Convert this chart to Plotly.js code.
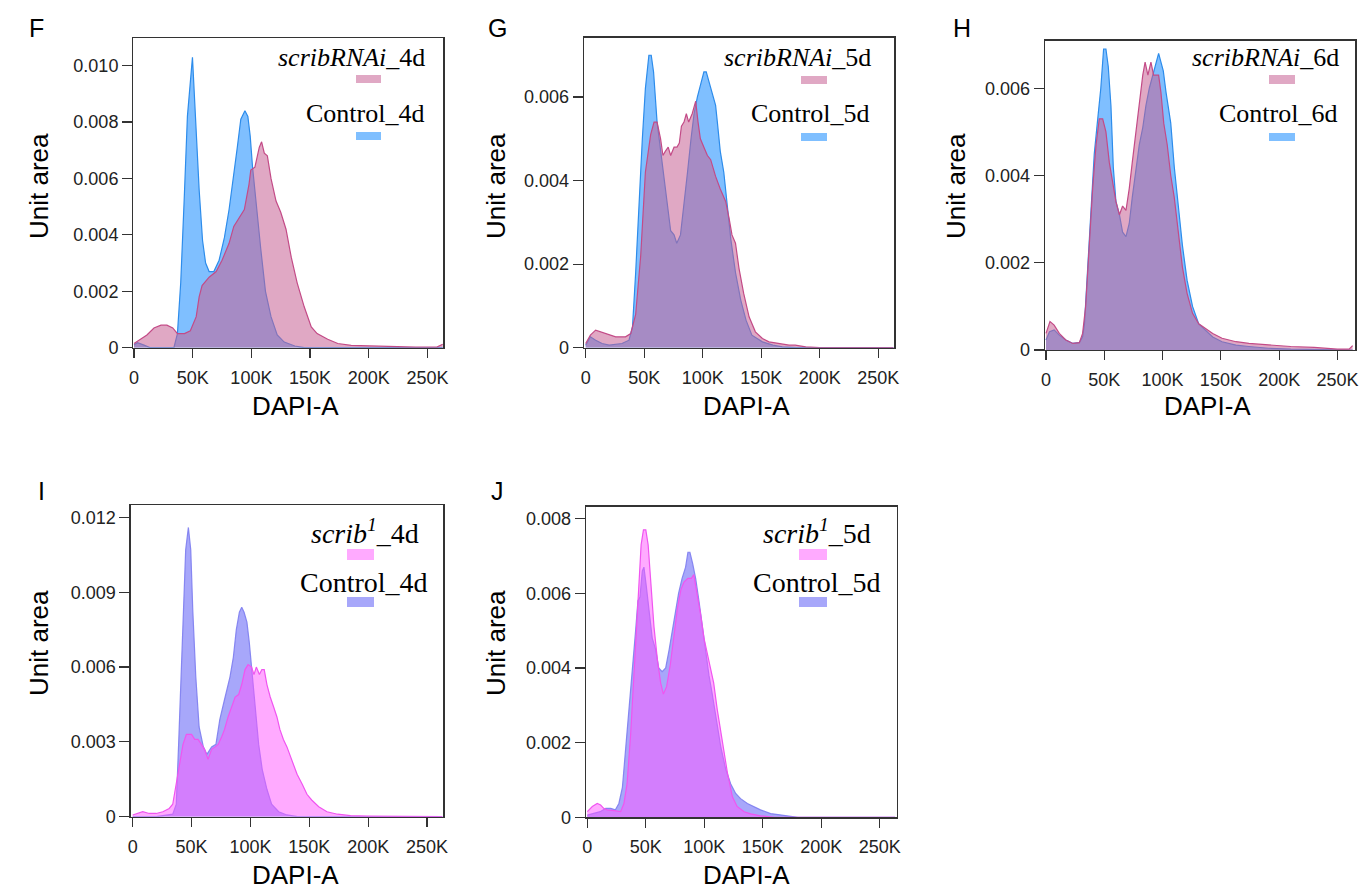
<!DOCTYPE html>
<html><head><meta charset="utf-8">
<script src="https://cdn.plot.ly/plotly-3.0.1.min.js"></script>
<style>html,body{margin:0;padding:0;background:#fff}#chart{width:1366px;height:894px}</style>
</head><body><div id="chart"></div>
<script>
// ---------- DATA (DAPI-A in thousands, density "Unit area") ----------
const xTickVals = [0, 50, 100, 150, 200, 250];
const xTickText = ['0', '50K', '100K', '150K', '200K', '250K'];

// Panel F : Control_4d / scribRNAi_4d
const F_ctrl_x = [0, 3, 8, 14, 25, 34, 37, 39.8, 42.7, 45.5, 49.8, 52.7, 55.5, 58.4, 61, 64, 68, 72.5, 77, 81, 84, 88, 91, 94.5, 97, 99, 101, 104, 108, 112, 116.7, 122, 128, 137, 145, 263];
const F_ctrl_y = [0.0001, 0.00018, 0.0001, 0, 0, 0, 0.0005, 0.0023, 0.0052, 0.0082, 0.0103, 0.0079, 0.0056, 0.0038, 0.0030, 0.0027, 0.0027, 0.0031, 0.0039, 0.0049, 0.0058, 0.0071, 0.0081, 0.0084, 0.0082, 0.0075, 0.0064, 0.0051, 0.0035, 0.0020, 0.0011, 0.00045, 0.0002, 0.00006, 0, 0];
const F_rnai_x = [0, 6, 11, 17, 23, 28, 33, 37, 43, 48, 53, 55.5, 58, 64, 70, 75, 81, 85, 88, 94, 98, 99.5, 103, 106.7, 108.7, 111, 113.6, 116.7, 121, 125, 129.5, 134, 139, 145, 151, 156, 165, 173.6, 185, 200, 225, 240, 258, 263];
const F_rnai_y = [0.00015, 0.0003, 0.00045, 0.0007, 0.0008, 0.0008, 0.0007, 0.0005, 0.0005, 0.0006, 0.0011, 0.0018, 0.0022, 0.0025, 0.0027, 0.0031, 0.0037, 0.0043, 0.0045, 0.0049, 0.0058, 0.0063, 0.0064, 0.0071, 0.0073, 0.0069, 0.0068, 0.0060, 0.0052, 0.0048, 0.0042, 0.0032, 0.0023, 0.00145, 0.00074, 0.0005, 0.0003, 0.00015, 0.00008, 0.00006, 0.00004, 0.00002, 0.00002, 0.00012];

// Panel G : Control_5d / scribRNAi_5d
const G_ctrl_x = [0, 4, 8.5, 14, 20, 31, 37, 40, 42.7, 45.6, 48.4, 51, 54, 56, 58, 61, 64, 67, 70, 72.6, 75.5, 77.8, 81, 84, 87, 90, 92.6, 95.4, 98, 101, 103, 105, 108, 111, 112.5, 115, 118, 121, 124, 128, 132.5, 137, 142, 151, 160, 168, 180, 263];
const G_ctrl_y = [0.00006, 0.00026, 0.00018, 0.0001, 0.00006, 0.0001, 0.00018, 0.0005, 0.0018, 0.0035, 0.0050, 0.0062, 0.0070, 0.0070, 0.0066, 0.0054, 0.0047, 0.0040, 0.0034, 0.0028, 0.0027, 0.0025, 0.0027, 0.0034, 0.0042, 0.0050, 0.0056, 0.0060, 0.0063, 0.0066, 0.0066, 0.0064, 0.0061, 0.0058, 0.0054, 0.0047, 0.0042, 0.0034, 0.0026, 0.0018, 0.00114, 0.00066, 0.0003, 0.00014, 0.00006, 0.00002, 0, 0];
const G_rnai_x = [0, 4, 8.5, 13, 18.5, 25.6, 34, 38.5, 42.7, 47, 51, 55.5, 58.4, 61, 64, 66, 68, 70.5, 72.6, 75.5, 78, 80, 81.8, 84, 86, 88, 91, 94, 96, 98, 101, 104, 106.8, 111, 115, 119.6, 122.5, 125, 128, 131, 135, 139.6, 145, 151, 156.6, 165, 173.8, 179, 188, 200, 263];
const G_rnai_y = [0.0001, 0.0003, 0.00042, 0.00038, 0.00033, 0.00026, 0.00026, 0.00034, 0.0008, 0.0022, 0.0042, 0.0051, 0.0054, 0.0054, 0.0050, 0.0046, 0.0047, 0.0048, 0.0046, 0.0048, 0.0048, 0.0049, 0.0053, 0.0054, 0.0056, 0.0054, 0.0056, 0.0059, 0.0054, 0.0050, 0.0048, 0.0046, 0.0045, 0.0041, 0.0038, 0.0035, 0.0031, 0.0027, 0.0025, 0.0019, 0.0013, 0.00074, 0.00038, 0.00022, 0.00014, 0.0001, 0.00006, 0.00006, 0.00002, 0, 0];

// Panel H : Control_6d / scribRNAi_6d
const H_ctrl_x = [0, 3, 7, 11.4, 17, 23, 28.6, 31.4, 33, 35.7, 38.6, 41.4, 44, 47, 49.4, 51.4, 53.4, 55.7, 57.7, 60, 63, 65.7, 68.6, 71.4, 74, 77, 80, 83, 85.7, 88.6, 91.4, 94.3, 96.6, 98.6, 100.6, 103, 105, 107, 110, 112.9, 117, 121, 125.7, 131, 137, 143, 151, 163, 174, 191, 210, 263];
const H_ctrl_y = [0.00023, 0.00042, 0.00046, 0.00034, 0.00023, 0.00015, 0.00017, 0.0003, 0.0006, 0.0018, 0.0033, 0.0045, 0.0052, 0.0060, 0.0069, 0.0069, 0.0065, 0.0056, 0.0042, 0.0034, 0.0031, 0.0027, 0.0026, 0.0029, 0.0035, 0.0041, 0.0047, 0.0051, 0.0056, 0.0060, 0.0063, 0.0066, 0.0068, 0.0066, 0.0064, 0.0059, 0.0055, 0.0052, 0.0042, 0.0034, 0.0024, 0.0016, 0.0010, 0.0006, 0.00046, 0.0003, 0.00019, 0.00011, 0.00008, 0.00004, 0.00002, 0];
const H_rnai_x = [0, 3.4, 7, 11.4, 17, 23, 28.6, 31.4, 34, 37, 40, 42.9, 45.7, 48.6, 51.4, 54.3, 57, 60, 63, 65.7, 68.6, 71.4, 74, 77, 80, 83, 85, 87.4, 90, 92.3, 94.3, 96.6, 98.6, 101, 104, 107, 110, 113, 117, 121, 125.7, 131, 137, 143, 151, 163, 174, 191, 210, 230, 250, 260, 263];
const H_rnai_y = [0.00038, 0.00065, 0.00057, 0.00038, 0.00023, 0.00015, 0.00017, 0.00038, 0.0010, 0.0024, 0.0037, 0.0047, 0.0053, 0.0053, 0.0050, 0.0043, 0.0039, 0.0034, 0.0031, 0.0033, 0.0032, 0.0037, 0.0043, 0.0050, 0.0056, 0.0063, 0.0066, 0.0063, 0.0066, 0.0063, 0.0063, 0.0063, 0.0059, 0.0052, 0.0047, 0.0040, 0.0035, 0.0028, 0.0019, 0.0013, 0.00084, 0.0006, 0.0005, 0.00038, 0.00027, 0.00019, 0.00015, 0.00011, 0.00008, 0.00006, 0.00002, 0.00002, 0.0001];

// Panel I : Control_4d / scrib1_4d
const I_ctrl_x = [0, 20, 34, 37, 39, 41, 43, 45, 47.3, 49.3, 51, 53.6, 56.4, 60, 63, 67, 70.7, 74, 78, 82.6, 85.5, 88, 90.6, 92.6, 94.6, 97, 99, 101, 104, 107, 110, 114, 118, 124, 131, 140, 263];
const I_ctrl_y = [0, 0, 0.0001, 0.0005, 0.0029, 0.0056, 0.0083, 0.0107, 0.0116, 0.0107, 0.0083, 0.0056, 0.0036, 0.0028, 0.0025, 0.0028, 0.0029, 0.0039, 0.0047, 0.0056, 0.0064, 0.0075, 0.0082, 0.0084, 0.0082, 0.0078, 0.0070, 0.0059, 0.0043, 0.0029, 0.0019, 0.0011, 0.0005, 0.0002, 0.00007, 0, 0];
const I_scrib_x = [0, 8.5, 14, 20, 25.6, 31, 34, 37, 40, 42.7, 45.6, 50, 52.7, 55.5, 58.4, 61, 64, 67, 70, 72.6, 75.5, 78, 81, 84, 87, 90, 92.6, 95.4, 98, 101, 103, 105, 107.6, 109.7, 111.7, 114, 116.8, 119.7, 122.5, 125, 128, 131, 134, 136.8, 139.6, 144, 148, 152, 158, 165, 174, 185, 200, 263];
const I_scrib_y = [0.00007, 0.0002, 0.00013, 0.00013, 0.0002, 0.00033, 0.0005, 0.0013, 0.0021, 0.0029, 0.0033, 0.0033, 0.0031, 0.0031, 0.0029, 0.0027, 0.0023, 0.0027, 0.0028, 0.0029, 0.0032, 0.0035, 0.0040, 0.0044, 0.0048, 0.0049, 0.0053, 0.0059, 0.0061, 0.0060, 0.0057, 0.0060, 0.0057, 0.0059, 0.0059, 0.0053, 0.0048, 0.0044, 0.0040, 0.0035, 0.0031, 0.0028, 0.0024, 0.0021, 0.0017, 0.0013, 0.0009, 0.00067, 0.0004, 0.0002, 0.0001, 0.00004, 0.00002, 0];

// Panel J : Control_5d / scrib1_5d
const J_ctrl_x = [0, 5.7, 11, 15.7, 20, 24, 27, 30, 32.8, 35.6, 38.5, 41.3, 43.3, 45, 47, 48.4, 50.4, 52.7, 55.5, 58.4, 61, 64, 67, 70, 72.6, 75.5, 78, 81, 84, 86, 87.7, 90, 92.6, 95.4, 98, 101, 104, 106.8, 109.7, 114, 118.2, 122.5, 126.8, 131, 136.8, 142, 148, 156.7, 168, 180, 263];
const J_ctrl_y = [0.00006, 0.0001, 0.00015, 0.00024, 0.00024, 0.0002, 0.00037, 0.0008, 0.0018, 0.0028, 0.0040, 0.0050, 0.0058, 0.0059, 0.0066, 0.0067, 0.0062, 0.0056, 0.0048, 0.0045, 0.0040, 0.0039, 0.0040, 0.0045, 0.0050, 0.0056, 0.0060, 0.0064, 0.0067, 0.0071, 0.0071, 0.0068, 0.0064, 0.0058, 0.0052, 0.0044, 0.0038, 0.0033, 0.0027, 0.0019, 0.0013, 0.0009, 0.00064, 0.0005, 0.00037, 0.00029, 0.0002, 0.0001, 0.00006, 0, 0];
const J_scrib_x = [0, 4.3, 8.5, 11.4, 14, 17, 23, 28.5, 31.3, 34, 37, 40, 42.7, 44, 46, 48, 50, 52, 54, 57, 60, 62.7, 65, 67.8, 71, 74, 77, 80, 82.6, 86, 89, 91, 94, 97, 99.7, 102.6, 105, 108, 111, 114, 116.8, 119.7, 124, 128, 134, 139.6, 148, 160, 263];
const J_scrib_y = [0.00015, 0.00029, 0.00037, 0.00033, 0.00024, 0.0002, 0.00018, 0.00015, 0.00037, 0.0009, 0.0022, 0.0039, 0.0056, 0.0060, 0.0073, 0.0077, 0.0077, 0.0073, 0.0063, 0.0051, 0.0042, 0.0036, 0.0033, 0.0035, 0.0041, 0.0048, 0.0056, 0.0061, 0.0063, 0.0064, 0.0064, 0.0065, 0.0060, 0.0054, 0.0048, 0.0044, 0.0041, 0.0036, 0.0029, 0.0023, 0.0017, 0.0012, 0.00055, 0.00029, 0.00015, 0.00009, 0.00004, 0, 0];

// y tick labels per panel
const F_yTicks = [0, 0.002, 0.004, 0.006, 0.008, 0.010];
const F_yText = ['0', '0.002', '0.004', '0.006', '0.008', '0.010'];
const GH_yTicks = [0, 0.002, 0.004, 0.006];
const GH_yText = ['0', '0.002', '0.004', '0.006'];
const I_yTicks = [0, 0.003, 0.006, 0.009, 0.012];
const I_yText = ['0', '0.003', '0.006', '0.009', '0.012'];
const J_yTicks = [0, 0.002, 0.004, 0.006, 0.008];
const J_yText = ['0', '0.002', '0.004', '0.006', '0.008'];

// labels
const panelLetters = ['F', 'G', 'H', 'I', 'J'];
const mutantLabels = ['<i>scribRNAi</i>_4d', '<i>scribRNAi</i>_5d', '<i>scribRNAi</i>_6d', '<i>scrib<sup>1</sup></i>_4d', '<i>scrib<sup>1</sup></i>_5d'];
const controlLabels = ['Control_4d', 'Control_5d', 'Control_6d', 'Control_4d', 'Control_5d'];
const xTitle = 'DAPI-A';
const yTitle = 'Unit area';

// ---------- STYLE ----------
const W = 1366, H = 894;
const SANS = 'Liberation Sans, Arial, sans-serif';
const SERIF = 'Liberation Serif, Times New Roman, serif';
const AX = '#333333';
const styleRNAi = {
  ctrlFill: 'rgba(0,127,255,0.5)', ctrlLine: 'rgb(45,140,235)',
  mutFill: 'rgba(199,97,148,0.55)', mutLine: 'rgb(195,75,135)'
};
const styleScrib = {
  ctrlFill: 'rgba(80,80,245,0.5)', ctrlLine: 'rgba(125,125,240,0.9)',
  mutFill: 'rgba(255,85,255,0.5)', mutLine: 'rgb(240,85,240)'
};

const panels = [
  {cx: F_ctrl_x, cy: F_ctrl_y, mx: F_rnai_x, my: F_rnai_y, st: styleRNAi, yt: F_yTicks, ytt: F_yText,
   box: [133.3, 38, 443.3, 347.7], xr: [-0.6, 263.5], yr: [0, 0.01098],
   letter: [36, 28], ytitle: [39, 186], xtitle: [295, 406],
   mutTxt: [427, 58, 26], ctlTxt: [426, 113, 26], sw: [356, 381, 75, 83, 132, 140]},
  {cx: G_ctrl_x, cy: G_ctrl_y, mx: G_rnai_x, my: G_rnai_y, st: styleRNAi, yt: GH_yTicks, ytt: GH_yText,
   box: [584, 37.7, 894.3, 347.7], xr: [-1.45, 263.7], yr: [0, 0.00742],
   letter: [497, 28], ytitle: [496, 186], xtitle: [746, 406],
   mutTxt: [873, 58, 26], ctlTxt: [871, 113, 26], sw: [801, 827, 76, 84, 133, 141]},
  {cx: H_ctrl_x, cy: H_ctrl_y, mx: H_rnai_x, my: H_rnai_y, st: styleRNAi, yt: GH_yTicks, ytt: GH_yText,
   box: [1045, 40.7, 1355.3, 350], xr: [-0.86, 265.3], yr: [0, 0.00709],
   letter: [962, 28], ytitle: [956, 186], xtitle: [1207, 406],
   mutTxt: [1341, 58, 26], ctlTxt: [1339, 113, 26], sw: [1269, 1295, 75, 84, 133, 141]},
  {cx: I_ctrl_x, cy: I_ctrl_y, mx: I_scrib_x, my: I_scrib_y, st: styleScrib, yt: I_yTicks, ytt: I_yText,
   box: [130.7, 505, 443.3, 816.7], xr: [-1.7, 263.8], yr: [0, 0.0125],
   letter: [41, 491], ytitle: [39, 643], xtitle: [295, 875],
   mutTxt: [421, 531, 28], ctlTxt: [430, 582, 28], sw: [347, 374, 549, 560, 597, 607]},
  {cx: J_ctrl_x, cy: J_ctrl_y, mx: J_scrib_x, my: J_scrib_y, st: styleScrib, yt: J_yTicks, ytt: J_yText,
   box: [586, 506.7, 896.7, 817.3], xr: [-1.1, 264.4], yr: [0, 0.00832],
   letter: [497, 491], ytitle: [496, 643], xtitle: [746, 875],
   mutTxt: [873, 531, 28], ctlTxt: [883, 582, 28], sw: [799, 827, 549, 560, 597, 607]}
];

const px = v => v / W;
const py = v => 1 - v / H;

const traces = [];
const layout = {
  width: W, height: H, margin: {l: 0, r: 0, t: 0, b: 0},
  paper_bgcolor: '#ffffff', plot_bgcolor: 'rgba(0,0,0,0)',
  showlegend: false, annotations: [], shapes: [],
  font: {family: SANS, color: '#222'}
};

panels.forEach((p, i) => {
  const n = i === 0 ? '' : String(i + 1);
  const xa = 'x' + n, ya = 'y' + n;
  traces.push({x: p.cx, y: p.cy, xaxis: xa, yaxis: ya, type: 'scatter', mode: 'lines',
    fill: 'tozeroy', fillcolor: p.st.ctrlFill, line: {color: p.st.ctrlLine, width: 1.2},
    name: controlLabels[i], hoverinfo: 'skip'});
  traces.push({x: p.mx, y: p.my, xaxis: xa, yaxis: ya, type: 'scatter', mode: 'lines',
    fill: 'tozeroy', fillcolor: p.st.mutFill, line: {color: p.st.mutLine, width: 1.2},
    name: mutantLabels[i], hoverinfo: 'skip'});

  const [l, t, r, b] = p.box;
  layout['xaxis' + n] = {
    domain: [px(l), px(r)], range: p.xr, anchor: ya,
    tickmode: 'array', tickvals: xTickVals, ticktext: xTickText,
    ticks: 'outside', ticklen: 9, tickwidth: 1.2, tickcolor: AX,
    showline: true, linecolor: AX, linewidth: 1.3, mirror: true,
    showgrid: false, zeroline: false, fixedrange: true,
    tickfont: {family: SANS, size: 18, color: '#222'}, ticklabelstandoff: 4
  };
  layout['yaxis' + n] = {
    domain: [py(b), py(t)], range: p.yr, anchor: xa,
    tickmode: 'array', tickvals: p.yt, ticktext: p.ytt,
    ticks: 'outside', ticklen: 10, tickwidth: 1.2, tickcolor: AX,
    showline: true, linecolor: AX, linewidth: 1.3, mirror: true,
    showgrid: false, zeroline: false, fixedrange: true,
    tickfont: {family: SANS, size: 18, color: '#222'}
  };

  const ann = layout.annotations;
  ann.push({xref: 'paper', yref: 'paper', x: px(p.letter[0]), y: py(p.letter[1]), text: panelLetters[i],
    showarrow: false, xanchor: 'center', yanchor: 'middle', font: {family: SANS, size: 25, color: '#000'}});
  ann.push({xref: 'paper', yref: 'paper', x: px(p.ytitle[0]), y: py(p.ytitle[1]), text: yTitle, textangle: -90,
    showarrow: false, xanchor: 'center', yanchor: 'middle', font: {family: SANS, size: 26, color: '#000'}});
  ann.push({xref: 'paper', yref: 'paper', x: px(p.xtitle[0]), y: py(p.xtitle[1]), text: xTitle,
    showarrow: false, xanchor: 'center', yanchor: 'middle', font: {family: SANS, size: 26, color: '#000'}});
  ann.push({xref: 'paper', yref: 'paper', x: px(p.mutTxt[0]), y: py(p.mutTxt[1]), text: mutantLabels[i],
    showarrow: false, xanchor: 'right', yanchor: 'middle', font: {family: SERIF, size: p.mutTxt[2], color: '#000'}});
  ann.push({xref: 'paper', yref: 'paper', x: px(p.ctlTxt[0]), y: py(p.ctlTxt[1]), text: controlLabels[i],
    showarrow: false, xanchor: 'right', yanchor: 'middle', font: {family: SERIF, size: p.ctlTxt[2], color: '#000'}});

  const s = p.sw;
  layout.shapes.push({type: 'rect', xref: 'paper', yref: 'paper', x0: px(s[0]), x1: px(s[1]), y0: py(s[3]), y1: py(s[2]),
    fillcolor: p.st.mutFill, line: {width: 0}});
  layout.shapes.push({type: 'rect', xref: 'paper', yref: 'paper', x0: px(s[0]), x1: px(s[1]), y0: py(s[5]), y1: py(s[4]),
    fillcolor: p.st.ctrlFill, line: {width: 0}});
});

Plotly.newPlot('chart', traces, layout, {staticPlot: true, displayModeBar: false});
</script></body></html>
